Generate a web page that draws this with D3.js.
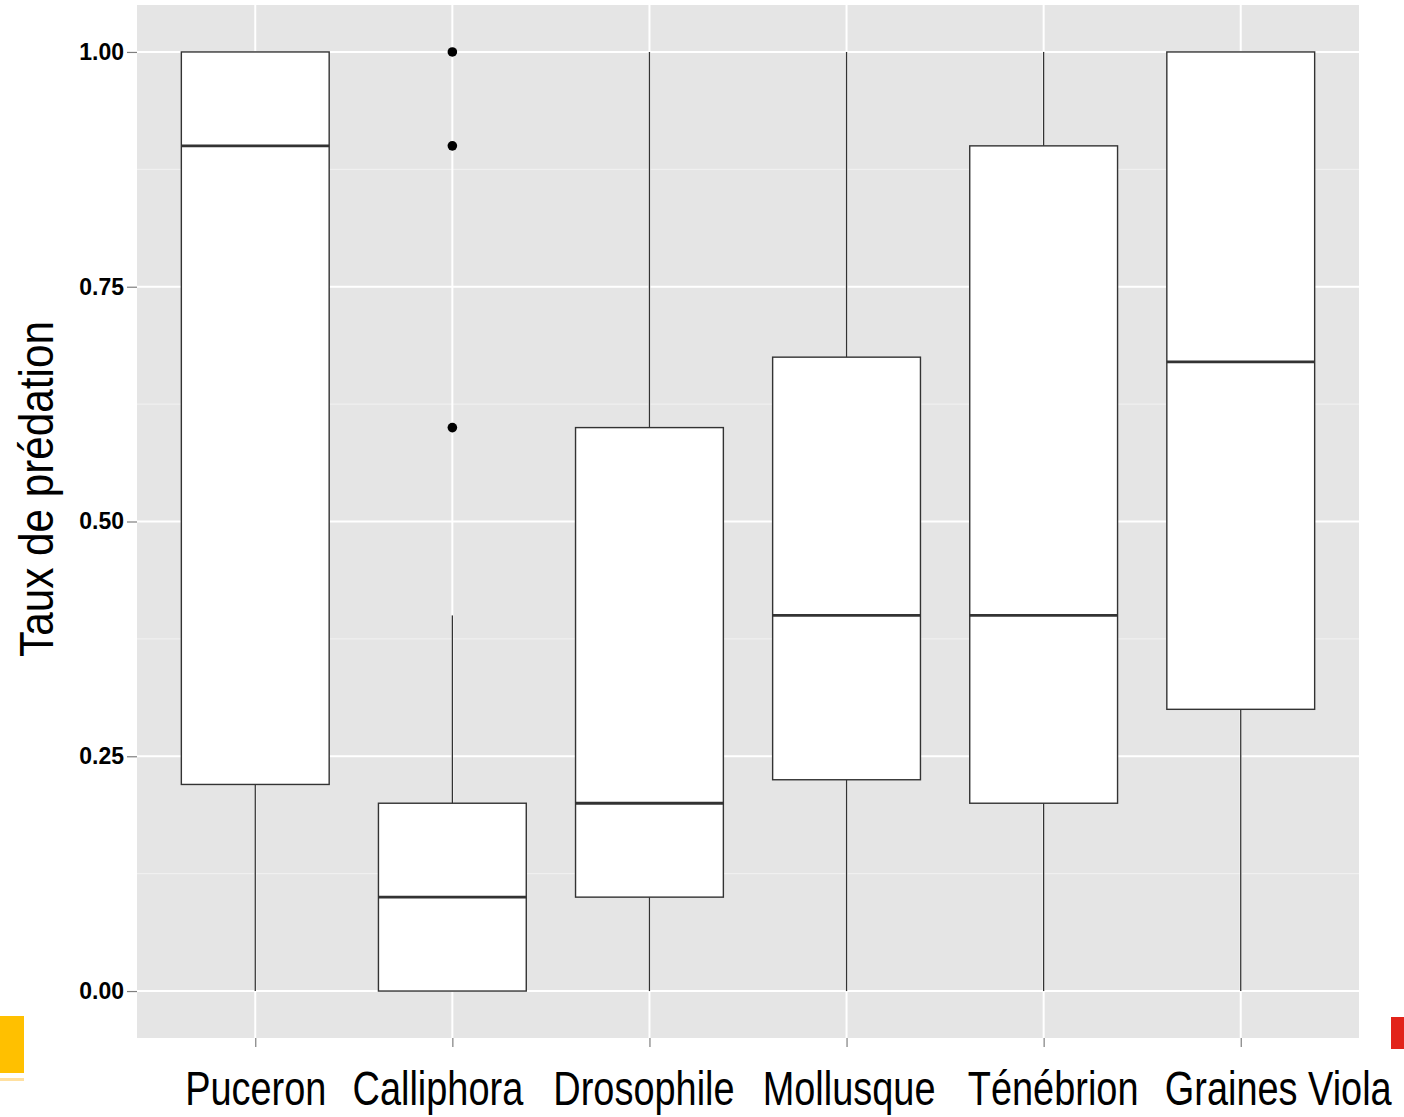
<!DOCTYPE html>
<html>
<head>
<meta charset="utf-8">
<script src="https://cdn.jsdelivr.net/npm/d3@7"></script>
<style>
body { margin: 0; background: #fff; }
svg { display: block; font-family: "Liberation Sans", Arial, sans-serif; }
</style>
</head>
<body>
<div class="svg"></div>
<script>
var categories = ["Puceron", "Calliphora", "Drosophile", "Mollusque", "Ténébrion", "Graines Viola"];
var lowerWhisker = [0, 0, 0, 0, 0, 0];
var q1 = [0.22, 0, 0.1, 0.225, 0.2, 0.3];
var median = [0.9, 0.1, 0.2, 0.4, 0.4, 0.67];
var q3 = [1.0, 0.2, 0.6, 0.675, 0.9, 1.0];
var upperWhisker = [1.0, 0.4, 1.0, 1.0, 1.0, 1.0];
var outliers = [[], [0.6, 0.9, 1.0], [], [], [], []];
var yTicks = [0, 0.25, 0.5, 0.75, 1.0];
var yMinor = [0.125, 0.375, 0.625, 0.875];

// label nudges (the labels in the source are not centred on their ticks)
var labelDx = [0, -15, -6, 2, 9, 37];

var width = 1404, height = 1117;
var margin = {top: 5, right: 45, bottom: 79, left: 137};

var svg = d3.select("div.svg").append("svg")
	.attr("width", width)
	.attr("height", height);

var x = d3.scaleLinear()
	.domain([0.4, categories.length + 0.6])
	.range([margin.left, width - margin.right]);

var y = d3.scaleLinear()
	.domain([-0.05, 1.05])
	.range([height - margin.bottom, margin.top]);

// panel
svg.append("rect")
	.attr("x", margin.left)
	.attr("y", margin.top)
	.attr("width", x.range()[1] - x.range()[0])
	.attr("height", y.range()[0] - y.range()[1])
	.attr("fill", "#e5e5e5");

// minor grid
svg.selectAll("line.minor").data(yMinor).enter().append("line")
	.attr("x1", x.range()[0]).attr("x2", x.range()[1])
	.attr("y1", d => y(d)).attr("y2", d => y(d))
	.attr("stroke", "#f2f2f2").attr("stroke-width", 1);

// major grid
svg.selectAll("line.hmajor").data(yTicks).enter().append("line")
	.attr("x1", x.range()[0]).attr("x2", x.range()[1])
	.attr("y1", d => y(d)).attr("y2", d => y(d))
	.attr("stroke", "#ffffff").attr("stroke-width", 2);

svg.selectAll("line.vmajor").data(categories).enter().append("line")
	.attr("x1", (d, i) => x(i + 1)).attr("x2", (d, i) => x(i + 1))
	.attr("y1", y.range()[0]).attr("y2", y.range()[1])
	.attr("stroke", "#ffffff").attr("stroke-width", 2);

var bw = 0.75;

var g = svg.selectAll("g.box").data(categories).enter().append("g");

// whiskers
g.append("line")
	.attr("x1", (d, i) => x(i + 1)).attr("x2", (d, i) => x(i + 1))
	.attr("y1", (d, i) => y(q3[i])).attr("y2", (d, i) => y(upperWhisker[i]))
	.attr("stroke", "#333").attr("stroke-width", 1.3);
g.append("line")
	.attr("x1", (d, i) => x(i + 1)).attr("x2", (d, i) => x(i + 1))
	.attr("y1", (d, i) => y(q1[i])).attr("y2", (d, i) => y(lowerWhisker[i]))
	.attr("stroke", "#333").attr("stroke-width", 1.3);

// boxes
g.append("rect")
	.attr("x", (d, i) => x(i + 1 - bw / 2))
	.attr("width", (d, i) => x(i + 1 + bw / 2) - x(i + 1 - bw / 2))
	.attr("y", (d, i) => y(q3[i]))
	.attr("height", (d, i) => y(q1[i]) - y(q3[i]))
	.attr("fill", "#fff").attr("stroke", "#333").attr("stroke-width", 1.4);

// medians
g.append("line")
	.attr("x1", (d, i) => x(i + 1 - bw / 2)).attr("x2", (d, i) => x(i + 1 + bw / 2))
	.attr("y1", (d, i) => y(median[i])).attr("y2", (d, i) => y(median[i]))
	.attr("stroke", "#333").attr("stroke-width", 2.8);

// outliers
categories.forEach(function(c, i) {
	svg.selectAll(null).data(outliers[i]).enter().append("circle")
		.attr("cx", x(i + 1)).attr("cy", d => y(d))
		.attr("r", 4.8).attr("fill", "#000");
});

// y axis
var yAxis = d3.axisLeft(y).tickValues(yTicks).tickFormat(d3.format(".2f")).tickSize(10).tickPadding(3);
var ya = svg.append("g").attr("transform", `translate(${margin.left},0)`).call(yAxis);
ya.select(".domain").remove();
ya.selectAll(".tick line").attr("stroke", "#7f7f7f").attr("stroke-width", 1.2);
ya.selectAll(".tick text").attr("font-size", 23).attr("font-weight", "bold").attr("fill", "#000")
	.attr("font-family", "Liberation Sans, Arial, sans-serif");

// x axis
var xAxis = d3.axisBottom(x).tickValues(d3.range(1, categories.length + 1))
	.tickFormat(d => categories[d - 1]).tickSize(9).tickPadding(0);
var xa = svg.append("g").attr("transform", `translate(0,${y.range()[0]})`).call(xAxis);
xa.select(".domain").remove();
xa.selectAll(".tick line").attr("stroke", "#7f7f7f").attr("stroke-width", 1.2);
xa.selectAll(".tick text")
	.attr("font-size", 48).attr("fill", "#000")
	.attr("font-family", "Liberation Sans, Arial, sans-serif")
	.attr("x", 0).attr("y", 0).attr("dy", null)
	.attr("transform", (d, i) => `translate(${labelDx[i]},67) scale(0.79,1)`);

// y title
svg.append("text")
	.attr("transform", "translate(53,489) rotate(-90) scale(0.88,1)")
	.attr("text-anchor", "middle")
	.attr("font-size", 48)
	.attr("fill", "#000")
	.text("Taux de prédation");

// decorative marks at the edges
svg.append("rect").attr("x", 0).attr("y", 1016).attr("width", 24).attr("height", 57).attr("fill", "#ffc000");
svg.append("rect").attr("x", 0).attr("y", 1078).attr("width", 24).attr("height", 3).attr("fill", "#ffe0a0");
svg.append("rect").attr("x", 1391).attr("y", 1017).attr("width", 13).attr("height", 32).attr("fill", "#e2231a");
</script>
</body>
</html>
